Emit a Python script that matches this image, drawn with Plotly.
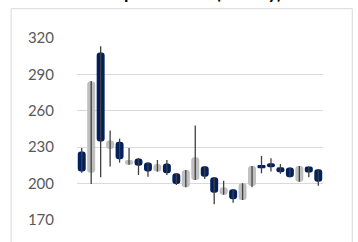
import plotly.graph_objects as go

dates = [f"W{i+1}" for i in range(26)]
open_ = [226.4, 209.0, 308.1, 228.6, 234.4, 215.6, 220.6, 217.3, 209.9, 216.5, 208.5, 197.0, 203.0,
         214.3, 205.2, 190.9, 195.3, 186.5, 198.1, 215.4, 216.8, 213.5, 213.2, 201.6, 214.0, 211.9]
close = [209.9, 284.2, 234.6, 235.5, 220.1, 219.5, 214.8, 209.9, 216.2, 208.5, 199.7, 211.3, 221.8,
         205.7, 192.5, 197.0, 187.1, 200.3, 214.6, 212.7, 213.5, 209.4, 205.2, 214.6, 209.1, 201.6]
high = [229.4, 284.5, 313.1, 243.7, 237.1, 229.4, 221.0, 217.3, 219.5, 219.5, 208.5, 211.3, 247.8,
        214.3, 205.2, 202.4, 195.3, 200.3, 214.6, 222.8, 220.9, 216.2, 213.2, 214.6, 214.0, 211.9]
low = [209.0, 199.7, 205.2, 214.0, 217.3, 215.6, 207.1, 205.7, 209.9, 207.1, 198.9, 197.0, 203.0,
       203.8, 182.9, 190.9, 184.3, 186.5, 197.0, 208.5, 209.9, 208.0, 205.2, 201.6, 205.2, 198.3]
y_ticks = [170, 200, 230, 260, 290, 320]
title_text = "Stock price trend (weekly)"

UP = "#bfbfbf"
DOWN = "#002060"
WICK = "#404040"

wx, wy = [], []
for i in range(len(dates)):
    wx += [i, i, None]
    wy += [low[i], high[i], None]

base = [min(o, c) for o, c in zip(open_, close)]
height = [abs(c - o) for o, c in zip(open_, close)]
colors = [UP if c >= o else DOWN for o, c in zip(open_, close)]

fig = go.Figure()
fig.add_trace(go.Scatter(x=wx, y=wy, mode="lines", line=dict(color=WICK, width=1.3),
                         hoverinfo="skip", showlegend=False))
fig.add_trace(go.Bar(x=list(range(len(dates))), y=height, base=base, width=0.84,
                     marker=dict(color=colors, cornerradius=3, line=dict(width=0)),
                     showlegend=False))

fig.update_layout(
    width=358, height=242,
    margin=dict(l=77, r=35, t=38, b=22),
    paper_bgcolor="white", plot_bgcolor="white",
    xaxis=dict(range=[-0.5, 25.5], showticklabels=False, showgrid=False, zeroline=False,
               showline=False, ticks=""),
    yaxis=dict(range=[170, 320], tickvals=y_ticks, showgrid=True, gridcolor="#d9d9d9",
               gridwidth=1, zeroline=False, showline=False, ticks="",
               tickfont=dict(family="Lato", size=15, color="#595959"),
               ticklabelstandoff=22),
    shapes=[dict(type="rect", xref="paper", yref="paper", x0=-0.268, x1=1.119, y0=-0.3, y1=1.161,
                 line=dict(color="#d9d9d9", width=1), fillcolor="rgba(0,0,0,0)", layer="below")],
    annotations=[dict(text=f"<b>{title_text}</b>", xref="paper", yref="paper", x=0.4146, y=1.18,
                      xanchor="center", yanchor="bottom", showarrow=False,
                      font=dict(family="Lato", size=18, color="#000000"))],
)

fig.write_html("out.html", config={"displayModeBar": False},
               post_script="document.body.style.margin='0';document.body.style.overflow='hidden';")
